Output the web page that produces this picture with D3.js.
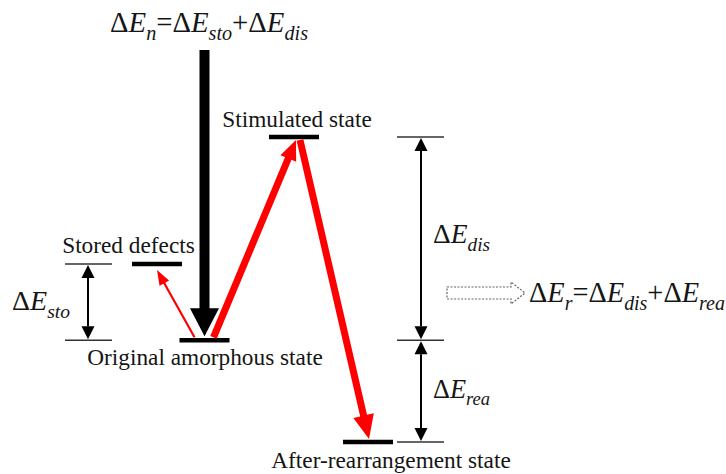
<!DOCTYPE html>
<html><head><meta charset="utf-8">
<script src="https://cdn.jsdelivr.net/npm/d3@7"></script>
<style>
html,body{margin:0;padding:0;background:#fff;}
svg{display:block;}
</style></head>
<body>
<script>
// ---- data ----
const levelNames = ["Stored defects","Original amorphous state","Stimulated state","After-rearrangement state"];
const levelEnergies = [0.75, 0, 2.0, -1.0];   // relative energy (original = 0)
const transitions = [
  {from:"Original amorphous state", to:"Stored defects", kind:"thin"},
  {from:"Original amorphous state", to:"Stimulated state", kind:"thick"},
  {from:"Stimulated state", to:"After-rearrangement state", kind:"thick"}
];
const gapLabels = [
  {top:"Stored defects", bottom:"Original amorphous state", sub:"sto", side:"left"},
  {top:"Stimulated state", bottom:"Original amorphous state", sub:"dis", side:"right"},
  {top:"Original amorphous state", bottom:"After-rearrangement state", sub:"rea", side:"right"}
];
const formulaN = [{t:"Δ"},{t:"E",i:1},{t:"n",i:1,sub:1},{t:"=Δ"},{t:"E",i:1},{t:"sto",i:1,sub:1},{t:"+Δ"},{t:"E",i:1},{t:"dis",i:1,sub:1}];
const formulaR = [{t:"Δ"},{t:"E",i:1},{t:"r",i:1,sub:1},{t:"=Δ"},{t:"E",i:1},{t:"dis",i:1,sub:1},{t:"+Δ"},{t:"E",i:1},{t:"rea",i:1,sub:1}];

// ---- layout (positions only) ----
const W = 726, H = 474;
const FONT = "'Liberation Serif'";
const levelX = {"Stored defects":157, "Original amorphous state":204.5, "Stimulated state":294, "After-rearrangement state":368};
const y = d3.scaleLinear().domain([-1, 2]).range([442, 137]);
const E = {}; levelNames.forEach((n,i)=>E[n]=levelEnergies[i]);

const svg = d3.select("body").append("svg").attr("width",W).attr("height",H);

function arrowPoly(x1,y1,x2,y2,shaftW,headW,headL){
  const dx=x2-x1, dy=y2-y1, L=Math.hypot(dx,dy);
  const ux=dx/L, uy=dy/L, px=-uy, py=ux;
  const bx=x2-ux*headL, by=y2-uy*headL;
  const s=shaftW/2, h=headW/2;
  return [[x1+px*s,y1+py*s],[bx+px*s,by+py*s],[bx+px*h,by+py*h],[x2,y2],
          [bx-px*h,by-py*h],[bx-px*s,by-py*s],[x1-px*s,y1-py*s]];
}
const line = d3.line();

// level bars
svg.selectAll("line.level").data(levelNames).join("line")
  .attr("x1",d=>levelX[d]-25).attr("x2",d=>levelX[d]+25)
  .attr("y1",d=>y(E[d])).attr("y2",d=>y(E[d]))
  .attr("stroke","#000").attr("stroke-width",4.5);

// level labels
const labelPos = {
  "Stored defects":{x:128.5, y:253},
  "Original amorphous state":{x:205, y:365},
  "Stimulated state":{x:297, y:127},
  "After-rearrangement state":{x:391, y:468}
};
svg.selectAll("text.lvl").data(levelNames).join("text")
  .attr("x",d=>labelPos[d].x).attr("y",d=>labelPos[d].y)
  .attr("text-anchor","middle").attr("font-size",23.3)
  .attr("font-family",FONT).attr("fill","#151515")
  .text(d=>d);

// big black arrow (ΔE_n input)
const xo = levelX["Original amorphous state"];
svg.append("path")
  .attr("d", line(arrowPoly(xo, 50, xo, y(E["Original amorphous state"])-4, 10, 29, 28)) + "Z")
  .attr("fill","#000");

// red transitions
transitions.forEach(t=>{
  let x1,y1,x2,y2,sw,hw,hl;
  if(t.kind==="thin"){
    x1=levelX[t.from]-10; y1=y(E[t.from])-3;
    x2=levelX[t.to]+0; y2=y(E[t.to])+6;
    sw=2.2; hw=11; hl=15;
  } else if(t.to==="Stimulated state"){
    x1=levelX[t.from]+9; y1=y(E[t.from])-3;
    x2=levelX[t.to]+2; y2=y(E[t.to])+3;
    sw=7; hw=17; hl=20;
  } else {
    x1=levelX[t.from]+6; y1=y(E[t.from])+3;
    x2=levelX[t.to]+1; y2=y(E[t.to])-3;
    sw=7; hw=21; hl=24;
  }
  svg.append("path").attr("d",line(arrowPoly(x1,y1,x2,y2,sw,hw,hl))+"Z").attr("fill","#ff0000");
});

// dimension lines
const sideX = {left:{x1:65,x2:112,ax:88}, right:{x1:397,x2:444,ax:421}};
const refLines = [];
gapLabels.forEach(g=>{ [g.top,g.bottom].forEach(n=>{
  const k=g.side+"|"+n; if(!refLines.includes(k)) refLines.push(k); }); });
svg.selectAll("line.ref").data(refLines).join("line")
  .attr("x1",d=>sideX[d.split("|")[0]].x1).attr("x2",d=>sideX[d.split("|")[0]].x2)
  .attr("y1",d=>y(E[d.split("|")[1]])).attr("y2",d=>y(E[d.split("|")[1]]))
  .attr("stroke","#333").attr("stroke-width",1.5);

function dimArrow(x,yt,yb){
  const hw=6.5, hl=13;
  svg.append("line").attr("x1",x).attr("x2",x).attr("y1",yt+hl).attr("y2",yb-hl)
    .attr("stroke","#000").attr("stroke-width",2);
  svg.append("path").attr("d",line([[x,yt],[x-hw,yt+hl],[x+hw,yt+hl]])+"Z").attr("fill","#000");
  svg.append("path").attr("d",line([[x,yb],[x-hw,yb-hl],[x+hw,yb-hl]])+"Z").attr("fill","#000");
}

// math text with fitted width
function mathText(x,yb,size,parts,targetW){
  const t=svg.append("text").attr("x",x).attr("y",yb).attr("font-family",FONT).attr("fill","#151515");
  function build(sz){
    t.selectAll("*").remove();
    t.attr("font-size",sz);
    let shifted=false;
    parts.forEach(p=>{
      const ts=t.append("tspan").text(p.t);
      if(p.i) ts.attr("font-style","italic");
      if(p.sub){ ts.attr("font-size",sz*0.7).attr("dy",sz*0.28); shifted=true; }
      else if(shifted){ ts.attr("dy",-sz*0.28); shifted=false; }
    });
  }
  build(size);
  if(targetW){ const w=t.node().getBBox().width; build(size*targetW/w); }
}

const gapTextPos = {sto:{x:12,y:310,w:58}, dis:{x:433,y:243,w:57}, rea:{x:433,y:398,w:57}};
gapLabels.forEach(g=>{
  const s=sideX[g.side];
  dimArrow(s.ax, y(E[g.top])+1, y(E[g.bottom])-1);
  const p=gapTextPos[g.sub];
  mathText(p.x,p.y,30,[{t:"Δ"},{t:"E",i:1},{t:g.sub,i:1,sub:1}],p.w);
});

// formulas
mathText(110,32,27,formulaN,198);
mathText(529,302,27,formulaR,196);

// dotted hollow arrow
const ha = {x1:447, x2:525, cy:293, bh:6, hh:11, hl:14};
svg.append("path")
  .attr("d", line([[ha.x1,ha.cy-ha.bh],[ha.x2-ha.hl,ha.cy-ha.bh],[ha.x2-ha.hl,ha.cy-ha.hh],[ha.x2,ha.cy],
                   [ha.x2-ha.hl,ha.cy+ha.hh],[ha.x2-ha.hl,ha.cy+ha.bh],[ha.x1,ha.cy+ha.bh]])+"Z")
  .attr("fill","none").attr("stroke","#666").attr("stroke-width",1.2).attr("stroke-dasharray","2,1.5");
</script>
</body></html>
